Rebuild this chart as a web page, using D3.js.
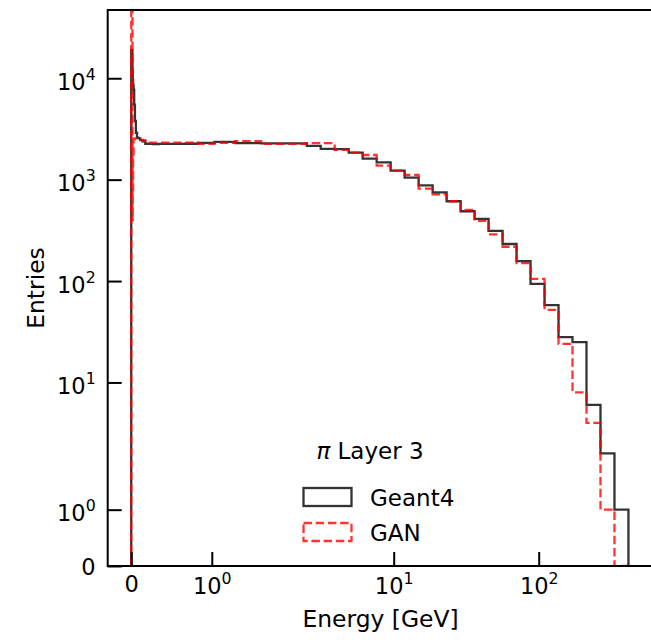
<!DOCTYPE html>
<html><head><meta charset="utf-8">
<script src="https://cdn.jsdelivr.net/npm/d3@7"></script>
<style>
body{margin:0;background:#fff}
svg{display:block}
text{font-family:"DejaVu Sans",sans-serif;fill:#000}
</style>
</head><body>
<svg id="chart" width="651" height="640"></svg>
<script>
// ---------------- data ----------------
const binEdges = [0, 0.0152, 0.019, 0.0237, 0.0296, 0.0369, 0.0461, 0.0576, 0.0719, 0.0898,
  0.112, 0.140, 0.175, 0.218, 0.273, 0.340, 0.425, 0.531, 0.663, 0.828,
  1.034, 1.291, 1.612, 2.013, 2.514, 3.139, 3.92, 4.895, 6.11, 7.63,
  9.53, 11.90, 14.86, 18.56, 23.17, 28.94, 36.13, 45.12, 56.34, 70.35,
  87.85, 109.7, 137.0, 171.0, 213.6, 266.7, 333.0, 415.8];
const geant4Counts = [19000, 12000, 9500, 8500, 7700, 5500, 3800, 2900, 2600, 2550,
  2450, 2380, 2260, 2250, 2240, 2250, 2250, 2250, 2260, 2300,
  2360, 2290, 2280, 2280, 2150, 2010, 2000, 1845, 1610, 1483,
  1225, 1045, 880, 750, 612, 488, 410, 312, 232, 157,
  94, 58, 28, 25, 6, 2, 1];
const ganCounts = [60000, 400, 800, 1600, 2500, 2550, 2520, 2500, 2490, 2480,
  2470, 2450, 2320, 2320, 2320, 2320, 2320, 2320, 2320, 2250,
  2300, 2400, 2250, 2250, 2290, 2290, 1964, 1850, 1750, 1374,
  1225, 1111, 815, 718, 612, 503, 392, 289, 218, 150,
  105, 52, 24, 8, 4, 1, 0];
const xTickValues = [0, 1, 10, 100];
const xTickExponents = [null, "0", "1", "2"];
const yTickValues = [0, 1, 10, 100, 1000, 10000];
const yTickExponents = [null, "0", "1", "2", "3", "4"];
const seriesNames = ["Geant4", "GAN"];
const legendTitle = "Layer 3";
const xLabel = "Energy [GeV]";
const yLabel = "Entries";

// ---------------- layout ----------------
const M = {left: 107.7, right: 653.3, top: 10, bottom: 566};
const LINTHRESH = 2, LINSCALE_ADJ = 1 / (1 - 1 / 10);
function symlog(v) {
  const a = Math.abs(v);
  if (a <= LINTHRESH) return v * LINSCALE_ADJ;
  return Math.sign(v) * LINTHRESH * (LINSCALE_ADJ + Math.log10(a / LINTHRESH));
}
const xMin = -0.292, xMax = 617;
const yMin = 0, yMax = 47100;
const xLin = d3.scaleLinear().domain([symlog(xMin), symlog(xMax)]).range([M.left, M.right]);
const yLin = d3.scaleLinear().domain([symlog(yMin), symlog(yMax)]).range([M.bottom, M.top]);
const x = v => xLin(symlog(v));
const y = v => yLin(symlog(v));

const svg = d3.select("#chart");
svg.append("defs").append("clipPath").attr("id", "clip")
  .append("rect").attr("x", M.left).attr("y", M.top)
  .attr("width", M.right - M.left).attr("height", M.bottom - M.top);

function stepPoints(edges, counts) {
  const pts = [[edges[0], 0]];
  counts.forEach((c, i) => { pts.push([edges[i], c]); pts.push([edges[i + 1], c]); });
  pts.push([edges[edges.length - 1], 0]);
  return pts;
}
const line = d3.line().x(d => x(d[0])).y(d => y(d[1]));
const LW = 2.3, DASH = "8.5,3.7";

const g = svg.append("g").attr("clip-path", "url(#clip)");
g.append("path").datum(stepPoints(binEdges, geant4Counts))
  .attr("d", line).attr("fill", "none")
  .attr("stroke", "#000").attr("stroke-opacity", 0.8).attr("stroke-width", LW)
  .attr("stroke-linejoin", "miter");
g.append("path").datum(stepPoints(binEdges, ganCounts))
  .attr("d", line).attr("fill", "none")
  .attr("stroke", "#ff0000").attr("stroke-opacity", 0.8).attr("stroke-width", LW)
  .attr("stroke-dasharray", DASH).attr("stroke-linejoin", "miter");

// ---------------- axes ----------------
const xAxisScale = d3.scaleLinear().domain(xLin.domain()).range(xLin.range());
const yAxisScale = d3.scaleLinear().domain(yLin.domain()).range(yLin.range());
const TICK = 14, FS = 22.5, SUP = 0.7;

const xAxis = svg.append("g").attr("transform", `translate(0,${M.bottom})`)
  .call(d3.axisBottom(xAxisScale).tickValues(xTickValues.map(symlog)).tickSize(-TICK).tickPadding(0).tickFormat(""));
xAxis.select(".domain").remove();
xAxis.selectAll(".tick line").attr("stroke", "#000").attr("stroke-width", 2);
xAxis.selectAll(".tick").each(function(d, i) {
  const t = d3.select(this).append("text").attr("text-anchor", "middle")
    .attr("font-size", FS).attr("fill", "#000");
  if (xTickExponents[i] === null) {
    t.attr("y", 26).text("0");
  } else {
    t.attr("y", 28);
    t.append("tspan").text("10");
    t.append("tspan").attr("font-size", FS * SUP).attr("dy", -10).text(xTickExponents[i]);
  }
});

const yAxis = svg.append("g").attr("transform", `translate(${M.left},0)`)
  .call(d3.axisLeft(yAxisScale).tickValues(yTickValues.map(symlog)).tickSize(-TICK).tickPadding(0).tickFormat(""));
yAxis.select(".domain").remove();
yAxis.selectAll(".tick line").attr("stroke", "#000").attr("stroke-width", 2);
yAxis.selectAll(".tick").each(function(d, i) {
  const t = d3.select(this).append("text").attr("text-anchor", "end")
    .attr("font-size", FS).attr("fill", "#000").attr("x", -12);
  if (yTickExponents[i] === null) {
    t.attr("y", 8).text("0");
  } else {
    t.attr("y", 11);
    t.append("tspan").text("10");
    t.append("tspan").attr("font-size", FS * SUP).attr("dy", -10).text(yTickExponents[i]);
  }
});

// frame
svg.append("rect").attr("x", M.left).attr("y", M.top)
  .attr("width", M.right - M.left).attr("height", M.bottom - M.top)
  .attr("fill", "none").attr("stroke", "#000").attr("stroke-width", 2);

// axis labels
svg.append("text").attr("x", (M.left + M.right) / 2).attr("y", 627)
  .attr("text-anchor", "middle").attr("font-size", 23.4).text(xLabel);
svg.append("text").attr("transform", `translate(44,${(M.top + M.bottom) / 2}) rotate(-90)`)
  .attr("text-anchor", "middle").attr("font-size", 23.4).text(yLabel);

// ---------------- legend ----------------
const leg = svg.append("g");
const lt = leg.append("text").attr("x", 370).attr("y", 459).attr("text-anchor", "middle").attr("font-size", 23);
lt.append("tspan").attr("font-style", "italic").text("π");
lt.append("tspan").text(" " + legendTitle);
const legStyles = [
  {stroke: "#000", dash: null},
  {stroke: "#ff0000", dash: DASH}
];
seriesNames.forEach((name, i) => {
  const yy = 488 + i * 35;
  leg.append("rect").attr("x", 303.5).attr("y", yy).attr("width", 48).attr("height", 18)
    .attr("fill", "none").attr("stroke", legStyles[i].stroke).attr("stroke-opacity", 0.8)
    .attr("stroke-width", LW).attr("stroke-dasharray", legStyles[i].dash);
  leg.append("text").attr("x", 370).attr("y", yy + 17.5).attr("font-size", 23).text(name);
});
</script>
</body></html>
